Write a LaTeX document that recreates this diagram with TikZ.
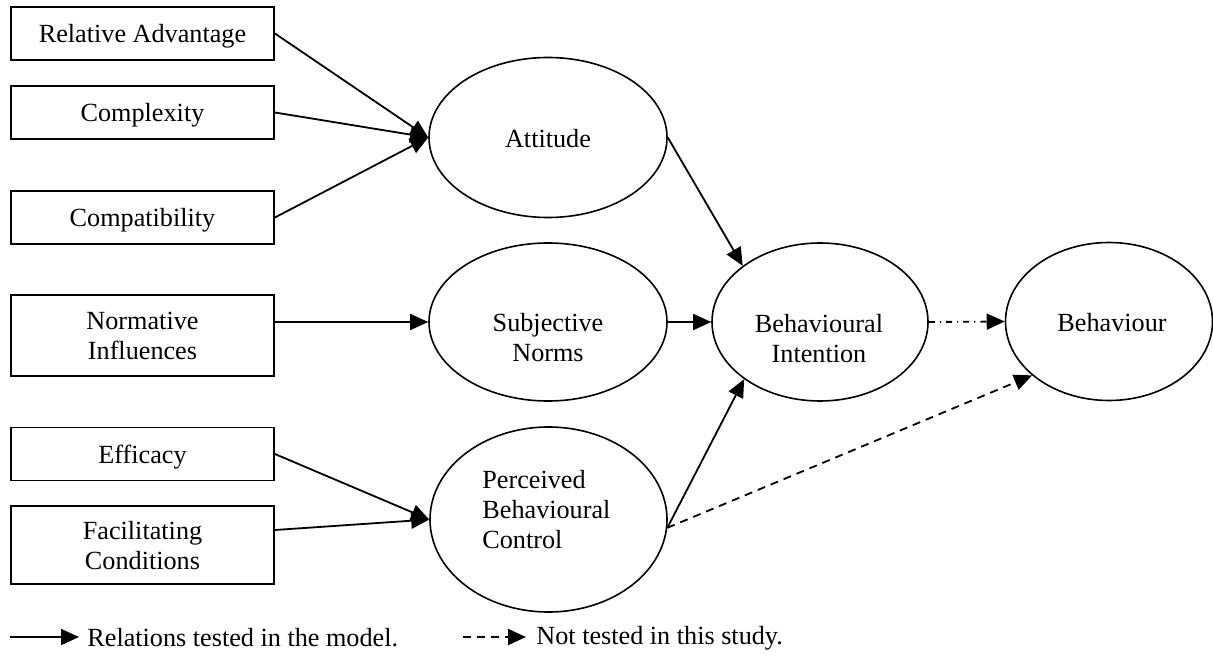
\documentclass[tikz,border=0pt]{standalone}
\usepackage{fontspec}
\setmainfont{Liberation Serif}
\usetikzlibrary{shapes.geometric,arrows.meta}
\begin{document}
\begin{tikzpicture}[x=0.5pt,y=-0.5pt,
  font=\fontsize{13.1pt}{15pt}\selectfont,
  factor/.style={draw,line width=0.9pt,minimum width=131.5pt,minimum height=26.5pt,
    inner sep=0pt,align=center,text depth=0pt},
  construct/.style={draw,ellipse,line width=0.8pt,inner sep=0pt},
  label/.style={align=center,inner sep=0pt},
  link/.style={line width=0.9pt,-{Triangle[length=9pt,width=8pt]}},
  untested/.style={link,dash pattern=on 4pt off 3pt},
  dashdot/.style={link,dash pattern=on 3pt off 2.5pt on 0.6pt off 2.5pt}]
\useasboundingbox (0,0) rectangle (1213,657);

% antecedent factors
\node[factor] (ra) at (142.5,33.5) {Relative Advantage};
\node[factor] (cx) at (142.5,112.5) {Complexity};
\node[factor] (cp) at (142.5,217.5) {Compatibility};
\node[factor,minimum height=40.5pt] (ni) at (142.5,335.5) {Normative\\Influences};
\node[factor] (ef) at (142.5,454) {Efficacy};
\node[factor,minimum height=39pt] (fc) at (142.5,545) {Facilitating\\Conditions};

% theory of planned behaviour constructs
\node[construct,minimum width=119pt,minimum height=80pt] (att) at (548,137.5) {};
\node[label] (atttxt) at (548,139) {Attitude};
\node[construct,minimum width=119pt,minimum height=79pt] (sn) at (548,322) {};
\node[label] (sntxt) at (548,338) {Subjective\\Norms};
\node[construct,minimum width=118.5pt,minimum height=92.5pt] (pbc) at (548.5,519.5) {};
\node[label,align=left,anchor=west] (pbctxt) at (482,510) {Perceived\\Behavioural\\Control};
\node[construct,minimum width=108pt,minimum height=79pt] (bi) at (820,322) {};
\node[label] (bitxt) at (819,339) {Behavioural\\Intention};
\node[construct,minimum width=103.5pt,minimum height=79pt] (beh) at (1109,321.5) {};
\node[label] (behtxt) at (1112,323) {Behaviour};

% tested relations
\draw[link] (ra.east) -- (att.west);
\draw[link] (cx.east) -- (att.west);
\draw[link] (cp.east) -- (att.west);
\draw[link] (ni.east |- sn.west) -- (sn.west);
\draw[link] (ef.east) -- (pbc.west);
\draw[link] ([yshift=7.5pt]fc.east) -- (pbc.west);
\draw[link] (sn.east) -- (bi.west);
\draw[link] (att.east) -- (bi.144);
\draw[link] (pbc.-4) -- (bi.217);

% relations not tested
\draw[dashdot] (bi.east) -- (beh.west);
\draw[untested] (pbc.-4) -- (beh.215);

% legend
\coordinate (lsa) at (10,637);
\coordinate (lsb) at (79,637);
\coordinate (lda) at (463,637);
\coordinate (ldb) at (526,637);
\draw[link] (lsa) -- (lsb);
\node[label,anchor=west] (lstxt) at (87,638) {Relations tested in the model.};
\draw[untested] (lda) -- (ldb);
\node[label,anchor=west] (ldtxt) at (536,638) {Not tested in this study.};
\end{tikzpicture}
\end{document}
